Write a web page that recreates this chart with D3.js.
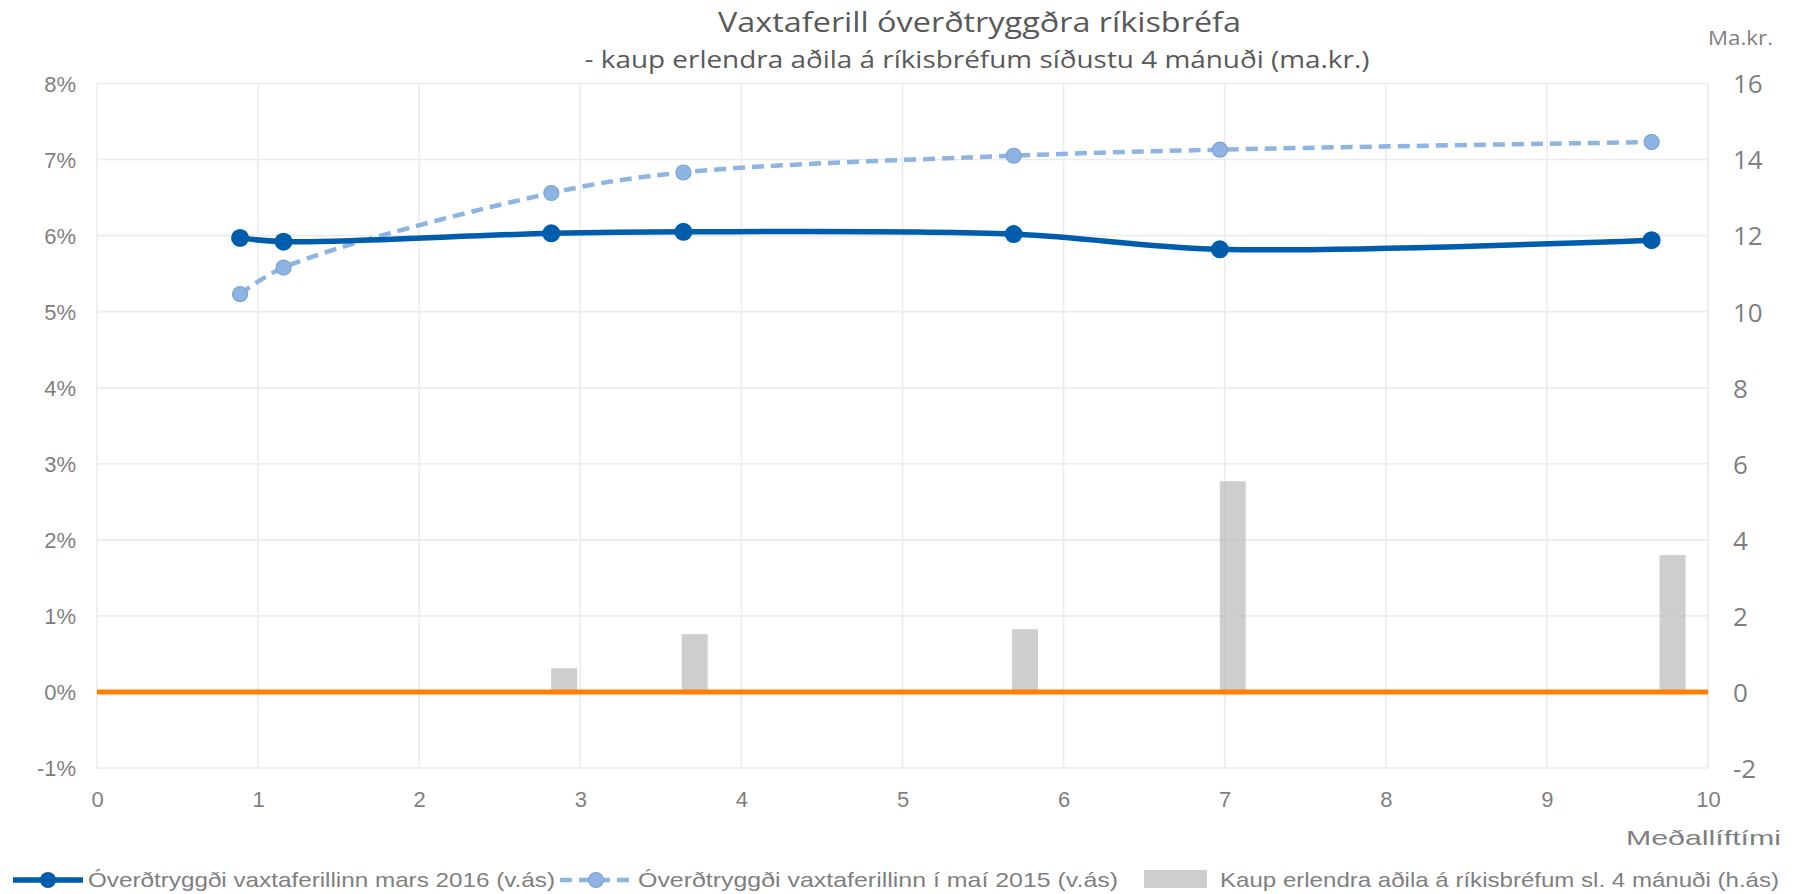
<!DOCTYPE html>
<html><head><meta charset="utf-8">
<script src="https://cdn.jsdelivr.net/npm/d3@7"></script>
<style>body{margin:0;background:#fff}</style>
</head><body><svg id="c" width="1794" height="894"></svg>
<script>
// ---- data ----
const maturities = [0.888, 1.158, 2.82, 3.64, 5.69, 6.97, 9.65];
const rateMar2016 = [5.97, 5.92, 6.03, 6.05, 6.02, 5.82, 5.94];
const rateMay2015 = [5.23, 5.58, 6.56, 6.83, 7.05, 7.13, 7.23];
const barMaturities = [2.90, 3.71, 5.76, 7.05, 9.78];
const foreignPurchases = [0.62, 1.52, 1.65, 5.54, 3.6];
const zeroLineX = [0, 10];
const leftTicks = [-1, 0, 1, 2, 3, 4, 5, 6, 7, 8];
const rightTicks = [-2, 0, 2, 4, 6, 8, 10, 12, 14, 16];
const xTicks = [0, 1, 2, 3, 4, 5, 6, 7, 8, 9, 10];
const titleText = "Vaxtaferill óverðtryggðra ríkisbréfa";
const subtitleText = "- kaup erlendra aðila á ríkisbréfum síðustu 4 mánuði (ma.kr.)";
const legendLabels = [
  "Óverðtryggði vaxtaferillinn mars 2016 (v.ás)",
  "Óverðtryggði vaxtaferillinn í maí 2015 (v.ás)",
  "Kaup erlendra aðila á ríkisbréfum sl. 4 mánuði (h.ás)"
];

// ---- layout ----
const L = 97, R = 1708, T = 83.5, B = 768;
const svg = d3.select("#c");
const x = d3.scaleLinear().domain([0, 10]).range([L, R]);
const yL = d3.scaleLinear().domain([-1, 8]).range([B, T]);
const yR = d3.scaleLinear().domain([-2, 16]).range([B, T]);

const dark = "#005dac", light = "#8db4e2", orange = "#ff7f00", grid = "#ebebeb", txt = "#7f7f7f";

// gridlines
const g = svg.append("g");
g.selectAll("line.h").data(leftTicks).join("line")
  .attr("x1", L).attr("x2", R).attr("y1", d => yL(d)).attr("y2", d => yL(d))
  .attr("stroke", grid).attr("stroke-width", 1.6);
g.selectAll("line.v").data(xTicks).join("line")
  .attr("y1", T).attr("y2", B).attr("x1", d => x(d)).attr("x2", d => x(d))
  .attr("stroke", grid).attr("stroke-width", 1.6);

// axes (labels only)
const axL = svg.append("g").attr("transform", `translate(${L - 21},0)`)
  .call(d3.axisLeft(yL).tickValues(leftTicks).tickFormat(d => d + "%").tickSize(0).tickPadding(0));
axL.select(".domain").remove();
axL.selectAll("text").attr("font-family", "Liberation Sans, Arial, sans-serif")
  .attr("font-size", 22).attr("fill", txt).attr("dy", "0.36em");

const axR = svg.append("g").attr("transform", `translate(${R + 25},0)`)
  .call(d3.axisRight(yR).tickValues(rightTicks).tickFormat(d => String(d)).tickSize(0).tickPadding(0));
axR.select(".domain").remove();
axR.selectAll("text").attr("font-family", "Open Sans, sans-serif")
  .attr("font-size", 26).attr("fill", txt).attr("dy", "0.36em");

const axX = svg.append("g").attr("transform", `translate(0,${B + 39})`)
  .call(d3.axisBottom(x).tickValues(xTicks).tickFormat(d => String(d)).tickSize(0).tickPadding(0));
axX.select(".domain").remove();
axX.selectAll("text").attr("font-family", "Liberation Sans, Arial, sans-serif")
  .attr("font-size", 22).attr("fill", txt).attr("dy", 0);

// bars
const barW = 26;
svg.append("g").selectAll("rect").data(barMaturities.map((m, i) => ({ m, v: foreignPurchases[i] }))).join("rect")
  .attr("x", d => x(d.m) - barW / 2).attr("width", barW)
  .attr("y", d => yR(d.v)).attr("height", d => yR(0) - yR(d.v))
  .attr("fill", "#bbbbbb").attr("fill-opacity", 0.72);

// zero line
svg.append("line").attr("x1", x(zeroLineX[0])).attr("x2", x(zeroLineX[1]))
  .attr("y1", yL(0)).attr("y2", yL(0)).attr("stroke", orange).attr("stroke-width", 5);

// lines
const curve = d3.curveCatmullRom.alpha(0.5);
const mk = vals => maturities.map((m, i) => [m, vals[i]]);
const line = d3.line().x(d => x(d[0])).y(d => yL(d[1])).curve(curve);

svg.append("path").datum(mk(rateMay2015)).attr("d", line).attr("fill", "none")
  .attr("stroke", light).attr("stroke-width", 4.5).attr("stroke-dasharray", "12,7");
svg.append("g").selectAll("circle").data(mk(rateMay2015)).join("circle")
  .attr("cx", d => x(d[0])).attr("cy", d => yL(d[1])).attr("r", 7.5)
  .attr("fill", light).attr("stroke", "#7ca3d6").attr("stroke-width", 1.2);

svg.append("path").datum(mk(rateMar2016)).attr("d", line).attr("fill", "none")
  .attr("stroke", dark).attr("stroke-width", 5.5);
svg.append("g").selectAll("circle").data(mk(rateMar2016)).join("circle")
  .attr("cx", d => x(d[0])).attr("cy", d => yL(d[1])).attr("r", 9)
  .attr("fill", dark);

// titles
function fitText(sel, w) {
  sel.attr("textLength", w).attr("lengthAdjust", "spacingAndGlyphs");
}
svg.append("text").attr("x", 979.5).attr("y", 31.5).attr("text-anchor", "middle")
  .attr("font-family", "Open Sans, sans-serif").attr("font-size", 27).attr("fill", "#595959")
  .text(titleText).call(fitText, 523);
svg.append("text").attr("x", 977).attr("y", 68).attr("text-anchor", "middle")
  .attr("font-family", "Open Sans, sans-serif").attr("font-size", 23).attr("fill", "#595959")
  .text(subtitleText).call(fitText, 785);
svg.append("text").attr("x", 1708).attr("y", 45).attr("font-family", "Open Sans, sans-serif")
  .attr("font-size", 20).attr("fill", txt).text("Ma.kr.").call(fitText, 65);
svg.append("text").attr("x", 1626).attr("y", 845)
  .attr("font-family", "Liberation Sans, Arial, sans-serif")
  .attr("font-size", 21).attr("fill", txt).text("Meðallíftími").call(fitText, 155);

// legend
const lg = svg.append("g");
const ly = 880;
lg.append("line").attr("x1", 13).attr("x2", 83).attr("y1", ly).attr("y2", ly).attr("stroke", dark).attr("stroke-width", 5.5);
lg.append("circle").attr("cx", 48).attr("cy", ly).attr("r", 8).attr("fill", dark);
lg.append("line").attr("x1", 560).attr("x2", 633).attr("y1", ly).attr("y2", ly).attr("stroke", light)
  .attr("stroke-width", 4.5).attr("stroke-dasharray", "12,7");
lg.append("circle").attr("cx", 596).attr("cy", ly).attr("r", 7.5).attr("fill", light).attr("stroke", "#7ca3d6").attr("stroke-width", 1.2);
lg.append("rect").attr("x", 1144).attr("y", 870).attr("width", 63).attr("height", 18).attr("fill", "#bbbbbb").attr("fill-opacity", 0.72);
const lx = [88, 638, 1220], lw = [467, 480, 559];
legendLabels.forEach((t, i) => {
  lg.append("text").attr("x", lx[i]).attr("y", 887).attr("font-family", "Liberation Sans, Arial, sans-serif")
    .attr("font-size", 21).attr("fill", txt).text(t).call(fitText, lw[i]);
});
</script></body></html>
